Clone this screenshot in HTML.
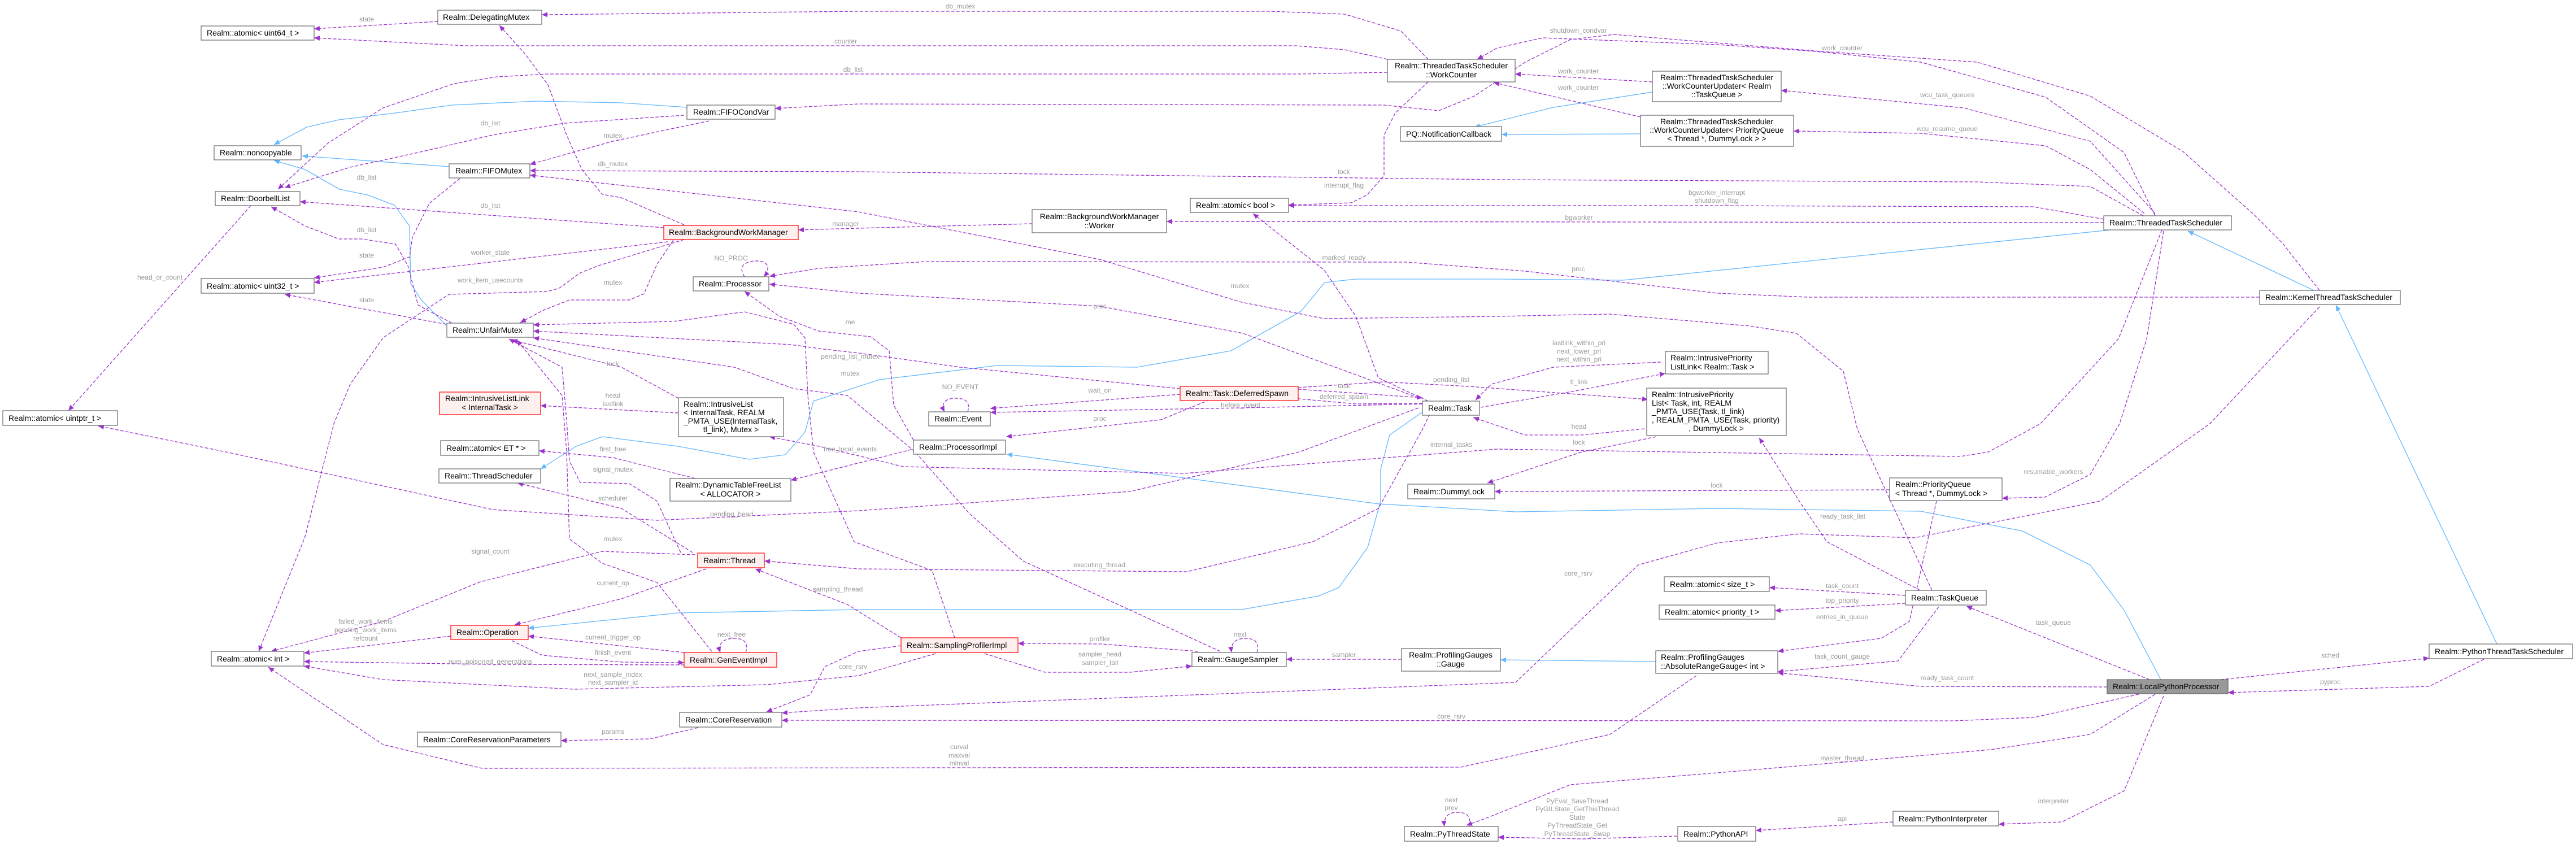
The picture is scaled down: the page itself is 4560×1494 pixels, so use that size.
<!DOCTYPE html>
<html><head><meta charset="utf-8"><style>
html,body{margin:0;padding:0;background:#fff;}
svg{display:block;}
.e{fill:none;stroke:#9a32cd;stroke-width:1.3;stroke-dasharray:6,3;marker-end:url(#ap);stroke-linejoin:round;}
.b{fill:none;stroke:#63b8ff;stroke-width:1.3;marker-end:url(#ab);stroke-linejoin:round;}
.n{fill:#fff;stroke:#666;stroke-width:1.2;}
.r{fill:#fff0f0;stroke:#ff0000;stroke-width:1.2;}
.g{fill:#999;stroke:#666;stroke-width:1.2;}
.t{font-family:"Liberation Sans",sans-serif;font-size:14px;fill:#000;}
.l{font-family:"Liberation Sans",sans-serif;font-size:12px;fill:#9a9a9a;text-anchor:middle;}
</style></head><body>
<svg width="4560" height="1494" viewBox="0 0 4560 1494" xmlns="http://www.w3.org/2000/svg">
<defs>
<marker id="ap" markerWidth="12" markerHeight="12" refX="10" refY="5" orient="auto" markerUnits="userSpaceOnUse"><path d="M0,0.5 L10,5 L0,9.5 z" fill="#9a32cd"/></marker>
<marker id="ab" markerWidth="12" markerHeight="12" refX="10" refY="5" orient="auto" markerUnits="userSpaceOnUse"><path d="M0,0.5 L10,5 L0,9.5 z" fill="#63b8ff"/></marker>
</defs>
<rect width="4560" height="1494" fill="#fff"/>

<!-- blue inheritance edges -->
<polyline class="b" points="1216,190 1100,182 950,179 800,186 700,200 600,212 543,225 485,256"/>
<polyline class="b" points="795,295 535,276"/>
<polyline class="b" points="790,576 745,530 727,502 725,400 698,363 650,345 601,335 540,300 485,284"/>
<polyline class="b" points="3736,407 2873,496 2650,494 2400,494 2345,500 2303,551 2179,621 2013,650 1765,647 1557,672 1440,710 1425,765 1390,805 1326,813 1200,790 1066,773 1020,790 957,830"/>
<polyline class="b" points="2527,723 2460,770 2444,830 2444,887 2421,969 2370,1040 2334,1055 2198,1079 1520,1079 1200,1085 935,1112"/>
<polyline class="b" points="3825,1203 3760,1080 3700,1000 3580,940 3400,905 3040,900 2683,906 2441,892 1782,804"/>
<polyline class="b" points="4096,514 3873,409"/>
<polyline class="b" points="4420,1140 4135,540"/>
<polyline class="b" points="2925,163 2750,190 2610,225"/>
<polyline class="b" points="2904,237 2658,238"/>
<polyline class="b" points="2931,1171 2656,1168"/>

<!-- purple dashed edges -->
<polyline class="e" points="2528,105 2480,55 2380,25 2247,20 1520,20 959,26"/>
<polyline class="e" points="775,38 556,51"/>
<polyline class="e" points="2456,105 2380,88 2295,81 824,81 556,67"/>
<polyline class="e" points="2456,128 2300,131 969,131 880,136 804,148 678,191 581,253 492,335"/>
<polyline class="e" points="1211,204 1000,218 872,239 740,270 620,296 504,332"/>
<polyline class="e" points="1255,214 1085,250 938,291"/>
<polyline class="e" points="4106,514 4040,430 3990,380 3864,268 3700,170 3500,110 3224,91 3040,76 2857,61 2780,70 2700,110 2610,170 2547,196 2450,186 1520,184 1372,192"/>
<polyline class="e" points="3815,382 3760,270 3621,172 3400,110 3214,91 3040,79 2731,67 2650,85 2615,105"/>
<polyline class="e" points="814,316 760,360 730,420 725,455 678,473 556,492"/>
<polyline class="e" points="800,572 740,540 722,470 700,432 640,423 600,423 540,400 480,366"/>
<polyline class="e" points="1175,403 531,357"/>
<polyline class="e" points="1211,398 1100,350 1066,344 1030,300 1003,239 970,150 930,96 884,45"/>
<polyline class="e" points="1182,428 556,500"/>
<polyline class="e" points="790,574 504,521"/>
<polyline class="e" points="1192,425 1163,468 1140,520 1114,531 1008,531 960,550 921,571"/>
<polyline class="e" points="1211,424 1060,470 1027,483 990,510 969,516 795,521 720,570 678,598 620,680 591,750 540,950 458,1153"/>
<polyline class="e" points="1201,705 1100,650 960,615 906,602"/>
<polyline class="e" points="1201,731 957,718"/>
<polyline class="e" points="2089,688 1700,650 1520,625 1450,617 1400,610 944,586"/>
<polyline class="e" points="2160,1153 1811,993 1715,908 1620,800 1500,700 1405,688 1300,650 944,598"/>
<polyline class="e" points="1690,1129 1650,1010 1512,959 1440,800 1430,700 1425,598 1405,574 1318,552 1192,569 944,575"/>
<polyline class="e" points="1617,779 1582,717 1574,621 1541,596 1449,586 1380,560 1318,516"/>
<polyline class="e" points="444,364 121,727"/>
<polyline class="e" points="1827,396 1520,404 1413,407"/>
<polyline class="e" points="3420,1045 3288,760 3263,657 3180,590 3097,577 2849,556 2650,560 2344,564 2198,535 1946,459 1520,375 938,310"/>
<polyline class="e" points="3794,382 3700,330 3500,322 2650,318 1520,304 938,302"/>
<polyline class="e" points="2528,145 2470,200 2450,239 2450,311 2420,345 2392,359 2281,363"/>
<polyline class="e" points="3724,388 3600,366 3000,364 2281,364"/>
<polyline class="e" points="3724,394 2065,392"/>
<polyline class="e" points="3815,378 3700,250 3476,191 3153,160"/>
<polyline class="e" points="3796,378 3700,300 3621,258 3400,236 3175,232"/>
<polyline class="e" points="2925,145 2682,131"/>
<polyline class="e" points="2904,207 2644,146"/>
<polyline class="e" points="4000,526 3200,526 3040,519 2700,480 2489,464 1640,463 1450,475 1362,489"/>
<polyline class="e" points="2528,710 2440,669 2400,560 2344,478 2218,378"/>
<polyline class="e" points="2511,704 2200,590 1947,542 1520,519 1362,503"/>
<polyline class="e" points="2089,698 1753,723"/>
<polyline class="e" points="2518,715 2196,722 1753,730"/>
<polyline class="e" points="2298,689 2518,704"/>
<polyline class="e" points="2518,714 2400,715 2300,706 2254,698"/>
<polyline class="e" points="2158,701 2055,743 1781,773"/>
<polyline class="e" points="2535,725 2518,760 2440,900 2324,959 2101,1012 1520,1007 1353,993"/>
<polyline class="e" points="2511,722 2300,800 2000,870 1520,904 1163,921 872,902 400,800 174,754"/>
<polyline class="e" points="1640,789 1400,850"/>
<polyline class="e" points="3827,407 3750,600 3612,750 3520,800 3470,808 2650,795 2096,838 1599,826 1450,790 1362,773"/>
<polyline class="e" points="3830,409 3800,600 3752,750 3700,840 3620,880 3544,882"/>
<polyline class="e" points="4106,543 3912,750 3718,887 3389,952 3185,945 3040,961 2900,1000 2683,1208 1520,1253 1384,1262"/>
<polyline class="e" points="3345,867 2646,870"/>
<polyline class="e" points="2932,773 2800,800 2633,855"/>
<polyline class="e" points="2911,759 2800,770 2700,770 2608,739"/>
<polyline class="e" points="2621,721 2800,690 2948,661"/>
<polyline class="e" points="2940,641 2750,650 2640,680 2612,708"/>
<polyline class="e" points="2298,686 2450,676 2600,684 2917,707"/>
<polyline class="e" points="3399,1045 3234,959 3185,887 3130,800 3114,775"/>
<polyline class="e" points="3805,1203 3481,1073"/>
<polyline class="e" points="3931,1203 4300,1165"/>
<polyline class="e" points="4397,1167 4300,1215 3944,1226"/>
<polyline class="e" points="3730,1216 3400,1215 3147,1191"/>
<polyline class="e" points="3432,1074 3360,1170 3147,1189"/>
<polyline class="e" points="3428,887 3380,1100 3330,1130 3147,1153"/>
<polyline class="e" points="3373,1054 3132,1040"/>
<polyline class="e" points="3373,1068 3142,1081"/>
<polyline class="e" points="3786,1229 3600,1270 3457,1276 1384,1275"/>
<polyline class="e" points="3003,1196 2850,1300 2586,1358 853,1360 678,1318 475,1181"/>
<polyline class="e" points="3815,1229 3700,1300 3524,1327 3040,1368 2780,1389 2634,1447 2596,1461"/>
<polyline class="e" points="3830,1232 3760,1400 3650,1455 3538,1459"/>
<polyline class="e" points="3351,1455 3108,1470"/>
<polyline class="e" points="2969,1480 2800,1485 2652,1482"/>
<polyline class="e" points="2481,1167 2277,1167"/>
<polyline class="e" points="2121,1153 1950,1140 1802,1139"/>
<polyline class="e" points="1743,1157 1850,1190 2000,1190 2110,1179"/>
<polyline class="e" points="1595,1129 1500,1070 1337,1007"/>
<polyline class="e" points="1595,1143 1520,1153 1460,1180 1434,1230 1357,1260"/>
<polyline class="e" points="1656,1157 1520,1196 1357,1212 1017,1220 678,1203 538,1179"/>
<polyline class="e" points="1231,982 1066,976 850,1030 678,1100 480,1153"/>
<polyline class="e" points="1250,1007 1100,1060 911,1106"/>
<polyline class="e" points="1226,978 1100,900 916,855"/>
<polyline class="e" points="1205,978 1163,887 1114,856 1027,854 1008,816 1003,744 995,650 901,600"/>
<polyline class="e" points="1260,1153 1163,1031 1066,997 1008,954 1003,800 995,700 915,602"/>
<polyline class="e" points="1231,847 1085,810 954,798"/>
<polyline class="e" points="798,1126 538,1156"/>
<polyline class="e" points="1211,1155 935,1126"/>
<polyline class="e" points="906,1134 960,1160 1100,1172 1211,1173"/>
<polyline class="e" points="1211,1177 868,1176 538,1171"/>
<polyline class="e" points="1236,1288 1150,1308 993,1311"/>
<!-- self loops -->
<path class="e" d="M1318,490 C1305,470 1320,462 1340,462 C1360,462 1365,475 1352,490"/>
<path class="e" d="M1713,729 C1718,712 1710,705 1692,705 C1672,705 1665,715 1672,729"/>
<path class="e" d="M1320,1155 C1325,1138 1318,1130 1300,1130 C1280,1130 1270,1140 1275,1155"/>
<path class="e" d="M2225,1155 C2230,1138 2222,1130 2205,1130 C2186,1130 2178,1140 2180,1155"/>
<path class="e" d="M2600,1463 C2605,1446 2598,1438 2580,1438 C2562,1438 2555,1448 2557,1463"/>

<!-- labels -->
<g class="l">
<text x="1700" y="15">db_mutex</text>
<text x="649" y="38">state</text>
<text x="1497" y="77">counter</text>
<text x="1510" y="127">db_list</text>
<text x="868" y="222">db_list</text>
<text x="1085" y="244">mutex</text>
<text x="2794" y="58">shutdown_condvar</text>
<text x="3261" y="89">work_counter</text>
<text x="1085" y="294">db_mutex</text>
<text x="649" y="318">db_list</text>
<text x="868" y="368">db_list</text>
<text x="649" y="411">db_list</text>
<text x="649" y="456">state</text>
<text x="868" y="451">worker_state</text>
<text x="868" y="500">work_item_usecounts</text>
<text x="1085" y="504">mutex</text>
<text x="649" y="535">state</text>
<text x="1294" y="461">NO_PROC</text>
<text x="283" y="495">head_or_count</text>
<text x="1085" y="648">lock</text>
<text x="1085" y="704">head</text>
<text x="1085" y="719">lastlink</text>
<text x="1505" y="574">me</text>
<text x="1505" y="635">pending_list_mutex</text>
<text x="1505" y="665">mutex</text>
<text x="1497" y="400">manager</text>
<text x="2195" y="510">mutex</text>
<text x="2379" y="308">lock</text>
<text x="2379" y="332">interrupt_flag</text>
<text x="3039" y="345">bgworker_interrupt</text>
<text x="3039" y="359">shutdown_flag</text>
<text x="2795" y="389">bgworker</text>
<text x="3447" y="172">wcu_task_queues</text>
<text x="3447" y="232">wcu_resume_queue</text>
<text x="2794" y="130">work_counter</text>
<text x="2794" y="159">work_counter</text>
<text x="2794" y="480">proc</text>
<text x="2379" y="460">marked_ready</text>
<text x="1947" y="546">proc</text>
<text x="1947" y="695">wait_on</text>
<text x="1700" y="689">NO_EVENT</text>
<text x="2196" y="721">before_event</text>
<text x="1947" y="745">proc</text>
<text x="2379" y="687">task</text>
<text x="2379" y="706">deferred_spawn</text>
<text x="1946" y="1004">executing_thread</text>
<text x="1295" y="914">pending_head</text>
<text x="1505" y="799">free_local_events</text>
<text x="2569" y="791">internal_tasks</text>
<text x="3635" y="839">resumable_workers</text>
<text x="2794" y="1019">core_rsrv</text>
<text x="3039" y="863">lock</text>
<text x="2795" y="787">lock</text>
<text x="2795" y="759">head</text>
<text x="2795" y="680">tl_link</text>
<text x="2795" y="611">lastlink_within_pri</text>
<text x="2795" y="626">next_lower_pri</text>
<text x="2795" y="640">next_within_pri</text>
<text x="2569" y="676">pending_list</text>
<text x="3262" y="918">ready_task_list</text>
<text x="3635" y="1106">task_queue</text>
<text x="4125" y="1164">sched</text>
<text x="4125" y="1211">pyproc</text>
<text x="3447" y="1204">ready_task_count</text>
<text x="3261" y="1166">task_count_gauge</text>
<text x="3261" y="1096">entries_in_queue</text>
<text x="3261" y="1041">task_count</text>
<text x="3261" y="1067">top_priority</text>
<text x="2569" y="1272">core_rsrv</text>
<text x="1698" y="1326">curval</text>
<text x="1698" y="1341">maxval</text>
<text x="1698" y="1355">minval</text>
<text x="3261" y="1346">master_thread</text>
<text x="3635" y="1422">interpreter</text>
<text x="3261" y="1453">api</text>
<text x="2792" y="1422">PyEval_SaveThread</text>
<text x="2792" y="1436">PyGILState_GetThisThread</text>
<text x="2792" y="1451">State</text>
<text x="2792" y="1465">PyThreadState_Get</text>
<text x="2792" y="1480">PyThreadState_Swap</text>
<text x="2569" y="1420">next</text>
<text x="2569" y="1434">prev</text>
<text x="2379" y="1163">sampler</text>
<text x="2195" y="1127">next</text>
<text x="1947" y="1135">profiler</text>
<text x="1947" y="1162">sampler_head</text>
<text x="1947" y="1177">sampler_tail</text>
<text x="1483" y="1047">sampling_thread</text>
<text x="1510" y="1184">core_rsrv</text>
<text x="1085" y="1198">next_sample_index</text>
<text x="1085" y="1212">next_sampler_id</text>
<text x="868" y="980">signal_count</text>
<text x="1085" y="1036">current_op</text>
<text x="1085" y="886">scheduler</text>
<text x="1085" y="835">signal_mutex</text>
<text x="1085" y="958">mutex</text>
<text x="1085" y="799">first_free</text>
<text x="647" y="1104">failed_work_items</text>
<text x="647" y="1119">pending_work_items</text>
<text x="647" y="1134">refcount</text>
<text x="1085" y="1132">current_trigger_op</text>
<text x="1085" y="1159">finish_event</text>
<text x="868" y="1175">num_poisoned_generations</text>
<text x="1085" y="1299">params</text>
<text x="1295" y="1127">next_free</text>
</g>

<!-- nodes -->
<g class="t">
<rect class="n" x="775" y="18" width="184" height="25"/><text x="784" y="35">Realm::DelegatingMutex</text>
<rect class="n" x="356" y="46" width="200" height="25"/><text x="366" y="63">Realm::atomic&lt; uint64_t &gt;</text>
<rect class="n" x="1216" y="186" width="156" height="25"/><text x="1227" y="203">Realm::FIFOCondVar</text>
<rect class="n" x="379" y="258" width="154" height="25"/><text x="389" y="275">Realm::noncopyable</text>
<rect class="n" x="795" y="290" width="143" height="25"/><text x="806" y="307">Realm::FIFOMutex</text>
<rect class="n" x="381" y="339" width="150" height="25"/><text x="391" y="356">Realm::DoorbellList</text>
<rect class="r" x="1175" y="399" width="238" height="25"/><text x="1184" y="416">Realm::BackgroundWorkManager</text>
<rect class="n" x="1227" y="490" width="134" height="25"/><text x="1237" y="507">Realm::Processor</text>
<rect class="n" x="356" y="493" width="200" height="26"/><text x="366" y="511">Realm::atomic&lt; uint32_t &gt;</text>
<rect class="n" x="791" y="572" width="153" height="25"/><text x="801" y="589">Realm::UnfairMutex</text>
<rect class="r" x="778" y="694" width="179" height="40"/><text x="788" y="710">Realm::IntrusiveListLink</text><text x="867" y="726" text-anchor="middle">&lt; InternalTask &gt;</text>
<rect class="n" x="1201" y="704" width="186" height="69"/><text x="1210" y="720">Realm::IntrusiveList</text><text x="1210" y="735">&lt; InternalTask, REALM</text><text x="1210" y="750">_PMTA_USE(InternalTask,</text><text x="1294" y="765" text-anchor="middle">tl_link), Mutex &gt;</text>
<rect class="n" x="5" y="727" width="203" height="26"/><text x="15" y="745">Realm::atomic&lt; uintptr_t &gt;</text>
<rect class="n" x="2456" y="105" width="226" height="40"/><text x="2569" y="121" text-anchor="middle">Realm::ThreadedTaskScheduler</text><text x="2569" y="137" text-anchor="middle">::WorkCounter</text>
<rect class="n" x="2925" y="126" width="228" height="54"/><text x="3039" y="142" text-anchor="middle">Realm::ThreadedTaskScheduler</text><text x="3039" y="157" text-anchor="middle">::WorkCounterUpdater&lt; Realm</text><text x="3039" y="172" text-anchor="middle">::TaskQueue &gt;</text>
<rect class="n" x="2904" y="204" width="271" height="55"/><text x="3039" y="220" text-anchor="middle">Realm::ThreadedTaskScheduler</text><text x="3039" y="235" text-anchor="middle">::WorkCounterUpdater&lt; PriorityQueue</text><text x="3039" y="250" text-anchor="middle">&lt; Thread *, DummyLock &gt; &gt;</text>
<rect class="n" x="2479" y="224" width="179" height="26"/><text x="2489" y="242">PQ::NotificationCallback</text>
<rect class="n" x="2107" y="351" width="174" height="25"/><text x="2117" y="368">Realm::atomic&lt; bool &gt;</text>
<rect class="n" x="1827" y="371" width="238" height="41"/><text x="1946" y="388" text-anchor="middle">Realm::BackgroundWorkManager</text><text x="1946" y="404" text-anchor="middle">::Worker</text>
<rect class="r" x="2089" y="684" width="209" height="25"/><text x="2099" y="701">Realm::Task::DeferredSpawn</text>
<rect class="n" x="2518" y="710" width="101" height="25"/><text x="2528" y="727">Realm::Task</text>
<rect class="n" x="1644" y="729" width="109" height="25"/><text x="1654" y="746">Realm::Event</text>
<rect class="n" x="2948" y="622" width="182" height="40"/><text x="2957" y="638">Realm::IntrusivePriority</text><text x="2957" y="654">ListLink&lt; Realm::Task &gt;</text>
<rect class="n" x="2915" y="687" width="247" height="84"/><text x="2924" y="703">Realm::IntrusivePriority</text><text x="2924" y="718">List&lt; Task, int, REALM</text><text x="2924" y="733">_PMTA_USE(Task, tl_link)</text><text x="2924" y="748">, REALM_PMTA_USE(Task, priority)</text><text x="3038" y="763" text-anchor="middle">, DummyLock &gt;</text>
<rect class="n" x="3724" y="382" width="226" height="25"/><text x="3734" y="399">Realm::ThreadedTaskScheduler</text>
<rect class="n" x="4000" y="514" width="249" height="25"/><text x="4010" y="531">Realm::KernelThreadTaskScheduler</text>
<rect class="n" x="780" y="780" width="174" height="26"/><text x="790" y="798">Realm::atomic&lt; ET * &gt;</text>
<rect class="n" x="777" y="830" width="180" height="25"/><text x="787" y="847">Realm::ThreadScheduler</text>
<rect class="n" x="1186" y="847" width="214" height="40"/><text x="1196" y="863">Realm::DynamicTableFreeList</text><text x="1293" y="879" text-anchor="middle">&lt; ALLOCATOR &gt;</text>
<rect class="r" x="1235" y="979" width="118" height="26"/><text x="1245" y="997">Realm::Thread</text>
<rect class="r" x="798" y="1107" width="137" height="25"/><text x="808" y="1124">Realm::Operation</text>
<rect class="r" x="1211" y="1155" width="164" height="26"/><text x="1221" y="1173">Realm::GenEventImpl</text>
<rect class="n" x="374" y="1153" width="164" height="26"/><text x="384" y="1171">Realm::atomic&lt; int &gt;</text>
<rect class="n" x="1203" y="1261" width="181" height="26"/><text x="1213" y="1279">Realm::CoreReservation</text>
<rect class="n" x="739" y="1296" width="254" height="26"/><text x="749" y="1314">Realm::CoreReservationParameters</text>
<rect class="n" x="1617" y="779" width="163" height="25"/><text x="1627" y="796">Realm::ProcessorImpl</text>
<rect class="n" x="2492" y="857" width="154" height="26"/><text x="2502" y="875">Realm::DummyLock</text>
<rect class="r" x="1595" y="1129" width="207" height="26"/><text x="1605" y="1147">Realm::SamplingProfilerImpl</text>
<rect class="n" x="2110" y="1155" width="167" height="25"/><text x="2120" y="1172">Realm::GaugeSampler</text>
<rect class="n" x="2481" y="1148" width="175" height="40"/><text x="2568" y="1164" text-anchor="middle">Realm::ProfilingGauges</text><text x="2568" y="1180" text-anchor="middle">::Gauge</text>
<rect class="n" x="2931" y="1152" width="216" height="40"/><text x="2940" y="1168">Realm::ProfilingGauges</text><text x="2940" y="1184">::AbsoluteRangeGauge&lt; int &gt;</text>
<rect class="n" x="2946" y="1021" width="186" height="26"/><text x="2956" y="1039">Realm::atomic&lt; size_t &gt;</text>
<rect class="n" x="2937" y="1071" width="205" height="25"/><text x="2947" y="1088">Realm::atomic&lt; priority_t &gt;</text>
<rect class="n" x="2486" y="1463" width="166" height="26"/><text x="2496" y="1481">Realm::PyThreadState</text>
<rect class="n" x="2970" y="1463" width="138" height="26"/><text x="2980" y="1481">Realm::PythonAPI</text>
<rect class="n" x="3345" y="846" width="199" height="40"/><text x="3355" y="862">Realm::PriorityQueue</text><text x="3355" y="878">&lt; Thread *, DummyLock &gt;</text>
<rect class="n" x="3373" y="1045" width="143" height="26"/><text x="3383" y="1063">Realm::TaskQueue</text>
<rect class="g" x="3730" y="1203" width="214" height="25"/><text x="3740" y="1220">Realm::LocalPythonProcessor</text>
<rect class="n" x="4300" y="1140" width="254" height="26"/><text x="4310" y="1158">Realm::PythonThreadTaskScheduler</text>
<rect class="n" x="3351" y="1436" width="187" height="26"/><text x="3361" y="1454">Realm::PythonInterpreter</text>
</g>
</svg>
</body></html>
